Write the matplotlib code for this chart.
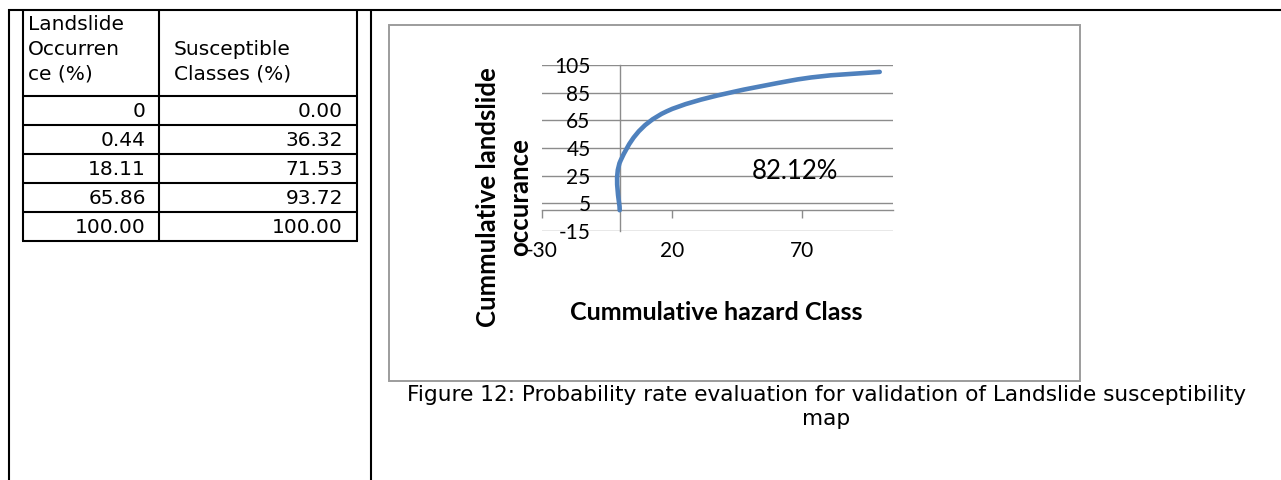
import matplotlib
matplotlib.use('Agg')
import matplotlib.pyplot as plt
from matplotlib.path import Path
from matplotlib.patches import PathPatch
from matplotlib.lines import Line2D

plt.rcParams['axes.unicode_minus'] = False

# validation table: landslide occurrence vs. susceptible classes (cumulative %)
occurrence_text = ['0', '0.44', '18.11', '65.86', '100.00']
classes_text = ['0.00', '36.32', '71.53', '93.72', '100.00']
occurrence = [float(s) for s in occurrence_text]
classes = [float(s) for s in classes_text]

x_ticks = [-30, 20, 70]
y_ticks = [-15, 5, 25, 45, 65, 85, 105]
auc_text = '82.12%'
caption = ['Figure 12: Probability rate evaluation for validation of Landslide susceptibility', 'map']

W, H = 1281, 480
fig = plt.figure(figsize=(W / 100, H / 100), dpi=100)

def fx(x):
    return x / W

def fy(y):
    return 1 - y / H

def hline(y, x0, x1, **kw):
    fig.add_artist(Line2D([fx(x0), fx(x1)], [fy(y), fy(y)], transform=fig.transFigure, **kw))

def vline(x, y0, y1, **kw):
    fig.add_artist(Line2D([fx(x), fx(x)], [fy(y0), fy(y1)], transform=fig.transFigure, **kw))

black = dict(color='black', lw=1.5, solid_capstyle='butt')

# page table frame
hline(9.5, 8, W, **black)
vline(9, 8.5, H, **black)
vline(371, 8.5, H, **black)

# left-hand table
vline(23, 9.5, 241, **black)
vline(159, 9.5, 241, **black)
vline(357, 9.5, 241, **black)
row_lines = [96, 125, 154, 183, 212, 241]
for y in row_lines:
    hline(y, 22.3, 357.7, **black)

tfont = dict(family='DejaVu Sans', fontsize=14.5, color='black')
for i, line in enumerate(['Landslide', 'Occurren', 'ce (%)']):
    fig.text(fx(28), fy(25 + 24.5 * i), line, ha='left', va='center', **tfont)
for i, line in enumerate(['Susceptible', 'Classes (%)']):
    fig.text(fx(174), fy(49.5 + 24.5 * i), line, ha='left', va='center', **tfont)
for i, (a, b) in enumerate(zip(occurrence_text, classes_text)):
    yc = (row_lines[i] + row_lines[i + 1]) / 2 + 1
    fig.text(fx(146), fy(yc), a, ha='right', va='center', **tfont)
    fig.text(fx(343), fy(yc), b, ha='right', va='center', **tfont)

# chart area border
fig.add_artist(plt.Rectangle((fx(389), fy(381)), fx(1080) - fx(389), fy(25) - fy(381),
                             transform=fig.transFigure, fill=False, ec='#9c9c9c', lw=1.4))

grid_c = '#8c8c8c'
ax = fig.add_axes([fx(541.7), fy(231), fx(892.7) - fx(541.7), fy(65) - fy(231)])
ax.set_xlim(-30, 105)
ax.set_ylim(-15, 105)
ax.patch.set_visible(False)
for s in ['top', 'right', 'bottom']:
    ax.spines[s].set_visible(False)
ax.spines['left'].set_position(('data', 0))
ax.spines['left'].set_color(grid_c)
ax.spines['left'].set_linewidth(1.0)
ax.set_yticks(y_ticks)
ax.set_xticks(x_ticks)
ax.yaxis.grid(True, color=grid_c, lw=1.0)
ax.tick_params(axis='y', length=0, pad=21)
ax.tick_params(axis='x', length=0, pad=7)
for lab in ax.get_xticklabels() + ax.get_yticklabels():
    lab.set_fontfamily('Lato')
    lab.set_fontsize(15)

# horizontal axis line crossing at y = 0, ticks pointing down
sec = ax.secondary_xaxis(15 / 120)
sec.set_xticks(x_ticks)
sec.tick_params(length=6, direction='out', color=grid_c, width=1.0, labelbottom=False)
sec.spines['bottom'].set_color(grid_c)
sec.spines['bottom'].set_linewidth(1.0)

# smoothed curve through the table points (cubic Bezier, Catmull-Rom style handles)
pts = list(zip(occurrence, classes))
verts = [pts[0]]
codes = [Path.MOVETO]
n = len(pts)
for i in range(n - 1):
    p0 = pts[max(i - 1, 0)]
    p1 = pts[i]
    p2 = pts[i + 1]
    p3 = pts[min(i + 2, n - 1)]
    c1 = (p1[0] + (p2[0] - p0[0]) / 6, p1[1] + (p2[1] - p0[1]) / 6)
    c2 = (p2[0] - (p3[0] - p1[0]) / 6, p2[1] - (p3[1] - p1[1]) / 6)
    verts += [c1, c2, p2]
    codes += [Path.CURVE4] * 3
ax.add_patch(PathPatch(Path(verts, codes), fill=False, ec='#4f81bd', lw=3.3,
                       capstyle='round', joinstyle='round', zorder=3))

ax.text(67.4, 27.8, auc_text, ha='center', va='center', family='Lato', fontsize=18.5)

fig.text(fx(716), fy(313), 'Cummulative hazard Class', ha='center', va='center',
         family='Lato', fontweight='bold', fontsize=18)
fig.text(fx(504), fy(197), 'Cummulative landslide\noccurance', ha='center', va='center',
         rotation=90, multialignment='center', linespacing=1.42,
         family='Lato', fontweight='bold', fontsize=18.5)

fig.text(fx(826), fy(395), caption[0], ha='center', va='center', family='DejaVu Sans', fontsize=15.6)
fig.text(fx(826), fy(419), caption[1], ha='center', va='center', family='DejaVu Sans', fontsize=15.6)

fig.savefig('out.png', dpi=100)
